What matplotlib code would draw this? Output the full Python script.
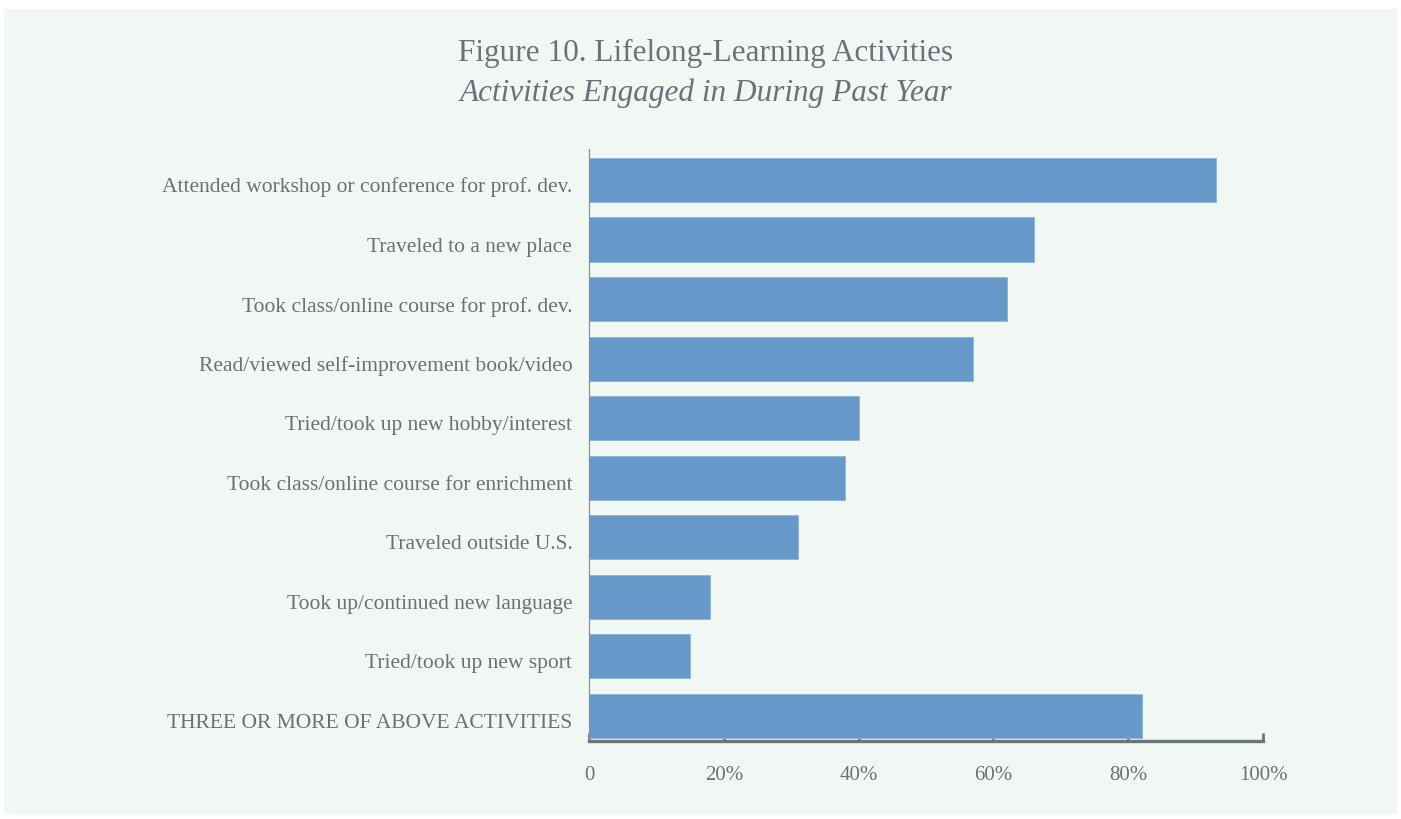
import matplotlib
matplotlib.use("Agg")
import matplotlib.pyplot as plt
from matplotlib.patches import Rectangle
from matplotlib.transforms import ScaledTranslation

categories = [
    "Attended workshop or conference for prof. dev.",
    "Traveled to a new place",
    "Took class/online course for prof. dev.",
    "Read/viewed self-improvement book/video",
    "Tried/took up new hobby/interest",
    "Took class/online course for enrichment",
    "Traveled outside U.S.",
    "Took up/continued new language",
    "Tried/took up new sport",
    "THREE OR MORE OF ABOVE ACTIVITIES",
]
values = [93, 66, 62, 57, 40, 38, 31, 18, 15, 82]
xticks = [0, 20, 40, 60, 80, 100]
xtick_labels = ["0", "20%", "40%", "60%", "80%", "100%"]

W, H = 1401, 820
TEXT = "#6b7079"
BAR = "#6699c9"
PANEL = "#f1f7f3"
AXIS = "#6b737b"

plt.rcParams["font.family"] = ["Liberation Serif", "DejaVu Serif"]

fig = plt.figure(figsize=(W / 100, H / 100), dpi=100)
fig.patch.set_facecolor("white")
fig.patches.append(Rectangle((4 / W, 1 - 815 / H), (1397 - 4) / W, (815 - 10) / H,
                             transform=fig.transFigure, facecolor=PANEL,
                             edgecolor="none", zorder=-5))

ax = fig.add_axes([589 / W, 1 - 742 / H, (1263 - 589) / W, (742 - 150) / H])
ax.set_facecolor("none")

ypos = list(range(len(categories)))
ax.barh(ypos, values, height=0.74, color=BAR, edgecolor="#8fb3d8", linewidth=0.6, zorder=2)

ax.set_xlim(0, 100)
ax.set_ylim(9.42, -0.52)

ax.set_yticks(ypos)
ax.set_yticklabels(categories, fontsize=15.5, color=TEXT)
ax.tick_params(axis="y", length=0, pad=12)
# category labels sit slightly below the bar centres
shift = ScaledTranslation(0, -4 / 100, fig.dpi_scale_trans)
for lbl in ax.get_yticklabels():
    lbl.set_transform(lbl.get_transform() + shift)

ax.set_xticks(xticks)
ax.set_xticklabels(xtick_labels, fontsize=15, color=TEXT)
ax.tick_params(axis="x", direction="in", length=5.5, width=2, color=AXIS, pad=17)
ax.set_xticks([0, 100], minor=True)
ax.tick_params(axis="x", which="minor", direction="in", length=10, width=2, color=AXIS)

for s in ("top", "right"):
    ax.spines[s].set_visible(False)
ax.spines["bottom"].set_color(AXIS)
ax.spines["bottom"].set_linewidth(2.4)
ax.spines["left"].set_color("#8a9096")
ax.spines["left"].set_linewidth(0.9)

fig.text(706 / W, 1 - 53 / H, "Figure 10. Lifelong-Learning Activities",
         ha="center", va="center", fontsize=22.5, color=TEXT)
fig.text(706 / W, 1 - 93 / H, "Activities Engaged in During Past Year",
         ha="center", va="center", fontsize=22.5, style="italic", color=TEXT)

fig.savefig("out.png", dpi=100, facecolor=fig.get_facecolor())
